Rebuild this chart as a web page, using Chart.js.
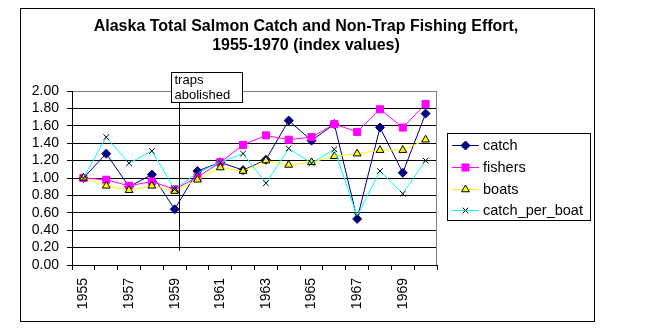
<!DOCTYPE html>
<html lang="en">
<head>
  <meta charset="UTF-8" />
  <title>Alaska Total Salmon Catch and Non-Trap Fishing Effort</title>
  <script src="https://cdn.jsdelivr.net/npm/chart.js"></script>
  <style>
    html, body { margin: 0; padding: 0; background: #fff; }
    canvas { display: block; }
  </style>
</head>
<body>
  <canvas id="salmonChart" width="646" height="330"></canvas>
  <script>
    // index values, 1955 = 1.00
    const years = ['1955', '1956', '1957', '1958', '1959', '1960', '1961', '1962',
                   '1963', '1964', '1965', '1966', '1967', '1968', '1969', '1970'];
    const catchIdx   = [1.00, 1.28, 0.90, 1.04, 0.64, 1.08, 1.18, 1.09, 1.21, 1.66, 1.43, 1.62, 0.53, 1.58, 1.06, 1.74];
    const fishersIdx = [1.00, 0.98, 0.91, 0.96, 0.87, 1.01, 1.18, 1.38, 1.49, 1.44, 1.47, 1.62, 1.53, 1.79, 1.58, 1.85];
    const boatsIdx   = [1.00, 0.91, 0.86, 0.91, 0.85, 0.98, 1.12, 1.08, 1.20, 1.15, 1.18, 1.25, 1.28, 1.32, 1.32, 1.44];
    const cpbIdx     = [1.00, 1.47, 1.17, 1.31, 0.87, 1.06, 1.18, 1.28, 0.94, 1.34, 1.17, 1.33, 0.56, 1.08, 0.82, 1.20];
    const seriesNames = ['catch', 'fishers', 'boats', 'catch_per_boat'];
    const titleLines = ['Alaska Total Salmon Catch and Non-Trap Fishing Effort,', '1955-1970 (index values)'];
    const noteLines = ['traps', 'abolished'];
    const noteYear = '1959';

    const FONT = 'Arial, "Liberation Sans", sans-serif';

    // frame, title, annotation and legend drawn like the old spreadsheet chart
    const decorations = {
      id: 'decorations',
      beforeDraw(chart) {
        const c = chart.ctx;
        c.save();
        c.fillStyle = '#fff';
        c.fillRect(0, 0, chart.width, chart.height);
        c.restore();
      },
      afterDraw(chart) {
        const c = chart.ctx;
        const area = chart.chartArea;
        const x = chart.scales.x, y = chart.scales.y;
        c.save();

        // outer chart border
        c.strokeStyle = '#000';
        c.lineWidth = 1;
        c.strokeRect(20.5, 8.5, 574, 313);

        // plot area right edge
        c.strokeStyle = '#808080';
        c.beginPath();
        c.moveTo(Math.round(area.right) - 0.5, area.top);
        c.lineTo(Math.round(area.right) - 0.5, area.bottom);
        c.stroke();

        // title
        c.fillStyle = '#000';
        c.font = 'bold 16px ' + FONT;
        c.textAlign = 'center';
        c.textBaseline = 'alphabetic';
        c.fillText(titleLines[0], 306, 31);
        c.fillText(titleLines[1], 306, 50);

        // "traps abolished" note
        const lx = Math.round(x.getPixelForValue(years.indexOf(noteYear)) + 5) - 0.5;
        const boxTop = Math.round(y.getPixelForValue(2.0)) - 18.5;
        const boxBottom = Math.round(y.getPixelForValue(1.87)) + 0.5;
        c.strokeStyle = '#000';
        c.fillStyle = '#fff';
        c.fillRect(lx - 8, boxTop, 71, boxBottom - boxTop);
        c.strokeRect(lx - 8, boxTop, 71, boxBottom - boxTop);
        c.beginPath();
        c.moveTo(lx, boxBottom);
        c.lineTo(lx, y.getPixelForValue(0.165));
        c.stroke();
        c.fillStyle = '#000';
        c.font = '13px ' + FONT;
        c.textAlign = 'left';
        c.fillText(noteLines[0], lx - 5, boxTop + 11.5);
        c.fillText(noteLines[1], lx - 5, boxTop + 26.5);

        // legend
        c.fillStyle = '#fff';
        c.fillRect(447.5, 133.5, 143, 87);
        c.strokeStyle = '#000';
        c.strokeRect(447.5, 133.5, 143, 87);
        c.font = '14.5px ' + FONT;
        c.textBaseline = 'middle';
        chart.data.datasets.forEach((ds, i) => {
          const ry = 145 + i * 21.8;
          c.strokeStyle = ds.borderColor;
          c.lineWidth = 1;
          c.beginPath();
          c.moveTo(452, Math.round(ry) + 0.5);
          c.lineTo(479, Math.round(ry) + 0.5);
          c.stroke();
          c.fillStyle = ds.pointBackgroundColor;
          c.strokeStyle = ds.pointBorderColor;
          Chart.helpers.drawPoint(c, {
            pointStyle: ds.pointStyle,
            radius: ds.pointRadius,
            borderWidth: ds.pointBorderWidth,
            rotation: 0
          }, 465.5, Math.round(ry) + 0.5);
          c.fillStyle = '#000';
          c.fillText(ds.label, 483, ry + 1);
        });

        c.restore();
      }
    };

    new Chart(document.getElementById('salmonChart'), {
      type: 'line',
      data: {
        labels: years,
        datasets: [
          {
            label: seriesNames[0],
            data: catchIdx,
            borderColor: '#000080',
            borderWidth: 1,
            pointStyle: 'rectRot',
            pointRadius: 4.5,
            pointBackgroundColor: '#000080',
            pointBorderColor: '#000080',
            pointBorderWidth: 1,
            order: 4
          },
          {
            label: seriesNames[1],
            data: fishersIdx,
            borderColor: '#ff00ff',
            borderWidth: 1,
            pointStyle: 'rect',
            pointRadius: 5,
            pointBackgroundColor: '#ff00ff',
            pointBorderColor: '#ff00ff',
            pointBorderWidth: 1,
            order: 3
          },
          {
            label: seriesNames[2],
            data: boatsIdx,
            borderColor: '#ffff00',
            borderWidth: 1,
            pointStyle: 'triangle',
            pointRadius: 4.5,
            pointBackgroundColor: '#ffff00',
            pointBorderColor: '#000',
            pointBorderWidth: 1,
            order: 2
          },
          {
            label: seriesNames[3],
            data: cpbIdx,
            borderColor: '#00ffff',
            borderWidth: 1,
            pointStyle: 'crossRot',
            pointRadius: 4,
            pointBackgroundColor: '#000',
            pointBorderColor: '#000',
            pointBorderWidth: 1,
            order: 1
          }
        ]
      },
      options: {
        responsive: false,
        animation: false,
        devicePixelRatio: 1,
        layout: { padding: { left: 0, top: 91, right: 209, bottom: 0 } },
        elements: { line: { tension: 0 } },
        scales: {
          x: {
            type: 'category',
            offset: true,
            afterFit(scale) { scale.height = 65; },
            grid: {
              offset: true,
              drawOnChartArea: false,
              drawTicks: true,
              tickLength: 5,
              tickColor: '#000'
            },
            border: { color: '#000' },
            ticks: {
              autoSkip: false,
              minRotation: 90,
              maxRotation: 90,
              padding: 8,
              color: '#000',
              font: { family: FONT, size: 14 },
              callback(val, i) { return i % 2 === 0 ? this.getLabelForValue(val) : ''; }
            }
          },
          y: {
            min: 0,
            max: 2,
            afterFit(scale) { scale.width = 72; },
            grid: {
              color: (ctx) => ctx.tick && ctx.tick.value >= 2 ? '#808080' : '#000',
              tickColor: '#000',
              tickLength: 5
            },
            border: { color: '#000' },
            ticks: {
              stepSize: 0.2,
              autoSkip: false,
              padding: 8,
              color: '#000',
              font: { family: FONT, size: 14 },
              callback: (v) => Number(v).toFixed(2)
            }
          }
        },
        plugins: {
          legend: { display: false },
          title: { display: false },
          tooltip: { enabled: false }
        }
      },
      plugins: [decorations]
    });
  </script>
</body>
</html>
